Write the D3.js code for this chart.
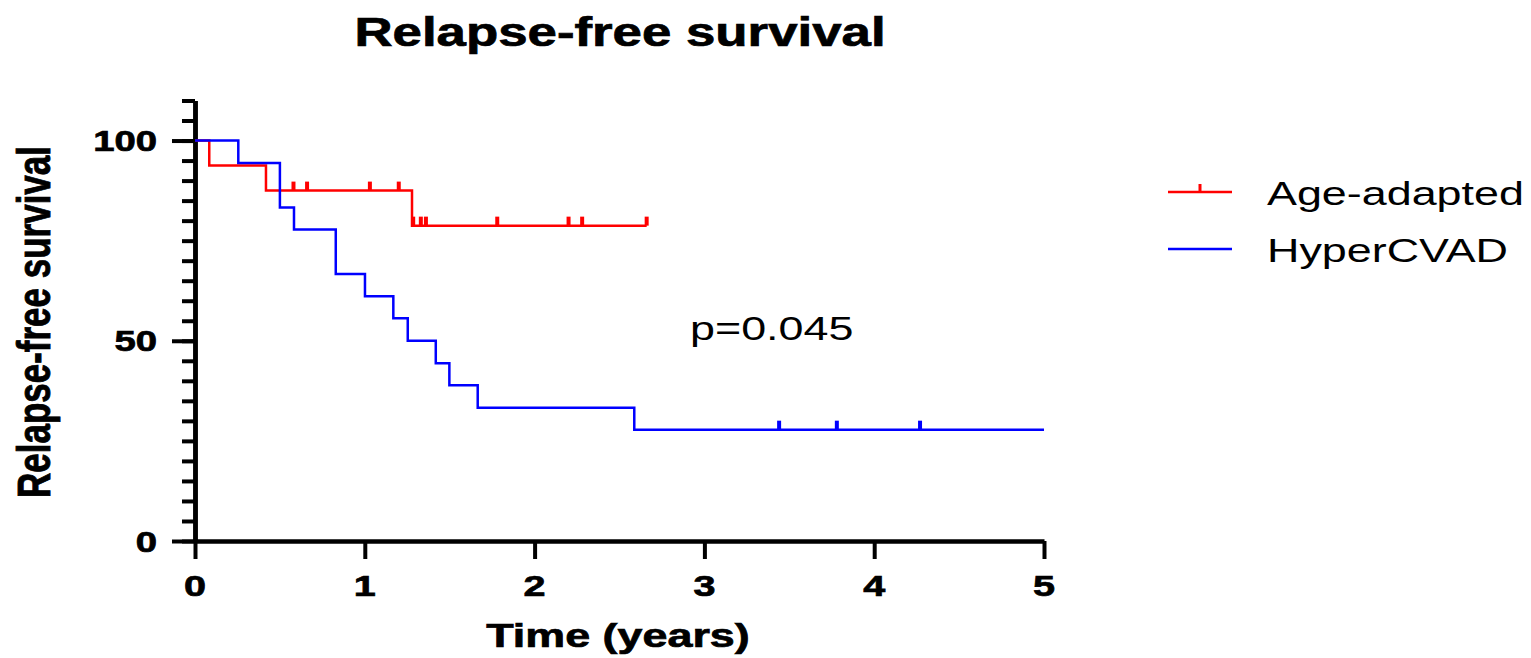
<!DOCTYPE html>
<html>
<head>
<meta charset="utf-8">
<script src="https://cdn.jsdelivr.net/npm/d3@7"></script>
<style>
  html, body { margin: 0; padding: 0; background: #ffffff; }
  svg { display: block; }
  text { font-family: "Liberation Sans", Arial, Helvetica, sans-serif; fill: #000; }
  text.heavy { stroke: #000; stroke-width: 0.7px; }
</style>
</head>
<body>
<svg id="chart" width="1531" height="658"></svg>
<script>
// ---------------- data ----------------
const title = "Relapse-free survival";
const xTitle = "Time (years)";
const yTitle = "Relapse-free survival";
const pValueText = "p=0.045";

const seriesNames = ["Age-adapted", "HyperCVAD"];
const seriesColors = ["#ff0000", "#0000ff"];

// Age-adapted: step times and survival (%)
const ageTimes = [0, 0.084, 0.418, 1.278];
const ageSurv  = [100, 93.75, 87.5, 78.75];
const ageEnd   = 2.66;
const ageCensor = [0.58, 0.66, 1.03, 1.20, 1.285, 1.33, 1.36, 1.78, 2.20, 2.28, 2.66];

// HyperCVAD: step times and survival (%)
const hyperTimes = [0, 0.255, 0.50, 0.583, 0.829, 1.001, 1.168, 1.253, 1.418, 1.498, 1.665, 2.587];
const hyperSurv  = [100, 94.4, 83.3, 77.8, 66.7, 61.1, 55.6, 50.0, 44.4, 38.9, 33.3, 27.8];
const hyperEnd   = 5;
const hyperCensor = [3.44, 3.78, 4.27];

const xTicks = [0, 1, 2, 3, 4, 5];
const yMajorTicks = [0, 50, 100];
const yMinorTicks = d3.range(0, 111, 5);

// ---------------- layout ----------------
const SX = 1.32; // horizontal stretch of the original figure's lettering
const svg = d3.select("#chart");

const x = d3.scaleLinear().domain([0, 5]).range([195, 1044]);
const y = d3.scaleLinear().domain([0, 110]).range([541, 100.5]);

function stretchedText(sel, px, py, str, size, weight, anchor, rotate) {
  const t = sel.append("text")
    .attr("transform", `translate(${px},${py}) scale(${SX},1)` + (rotate ? ` rotate(${rotate})` : ""))
    .attr("text-anchor", anchor || "start")
    .attr("font-size", size)
    .attr("font-weight", weight || "normal")
    .attr("class", weight === "bold" ? "heavy" : null)
    .text(str);
  return t;
}

// title
stretchedText(svg, 620, 46, title, 40, "bold", "middle");

// y axis: minor + major ticks
const yMinor = svg.append("g").attr("transform", `translate(${x(0)},0)`)
  .call(d3.axisLeft(y).tickValues(yMinorTicks).tickSize(13).tickSizeOuter(0).tickFormat(""));
const yMajor = svg.append("g").attr("transform", `translate(${x(0)},0)`)
  .call(d3.axisLeft(y).tickValues(yMajorTicks).tickSize(23).tickSizeOuter(0).tickFormat(""));
[yMinor, yMajor].forEach(g => {
  g.select(".domain").attr("stroke", "#000").attr("stroke-width", 4.5);
  g.selectAll(".tick line").attr("stroke", "#000").attr("stroke-width", 4);
});
yMajorTicks.forEach(v => {
  stretchedText(svg, 157, y(v) + 10.5, String(v), 29, "bold", "end");
});

// x axis
const xAxis = svg.append("g").attr("transform", `translate(0,${y(0)})`)
  .call(d3.axisBottom(x).tickValues(xTicks).tickSize(18).tickSizeOuter(0).tickFormat(""));
xAxis.select(".domain").attr("stroke", "#000").attr("stroke-width", 4.5);
xAxis.selectAll(".tick line").attr("stroke", "#000").attr("stroke-width", 4);
xTicks.forEach(v => {
  stretchedText(svg, x(v), 596, String(v), 30, "bold", "middle");
});

// axis titles
stretchedText(svg, 618, 647, xTitle, 34, "bold", "middle");
svg.append("text")
  .attr("class", "heavy")
  .attr("transform", `translate(50,322) scale(${SX},1) rotate(-90)`)
  .attr("text-anchor", "middle")
  .attr("font-size", 35)
  .attr("font-weight", "bold")
  .text(yTitle);

// survival curves
function stepValue(times, surv, t) {
  let v = surv[0];
  for (let i = 0; i < times.length; i++) if (times[i] <= t) v = surv[i];
  return v;
}
const line = d3.line().x(d => x(d[0])).y(d => y(d[1])).curve(d3.curveStepAfter);

const groups = [
  { times: ageTimes, surv: ageSurv, end: ageEnd, censor: ageCensor, color: seriesColors[0] },
  { times: hyperTimes, surv: hyperSurv, end: hyperEnd, censor: hyperCensor, color: seriesColors[1] }
];
groups.forEach(g => {
  const pts = g.times.map((t, i) => [t, g.surv[i]]);
  pts.push([g.end, g.surv[g.surv.length - 1]]);
  svg.append("path").datum(pts)
    .attr("fill", "none").attr("stroke", g.color).attr("stroke-width", 2.5)
    .attr("d", line);
  svg.append("g").selectAll("line").data(g.censor).join("line")
    .attr("x1", d => x(d)).attr("x2", d => x(d))
    .attr("y1", d => y(stepValue(g.times, g.surv, d)))
    .attr("y2", d => y(stepValue(g.times, g.surv, d)) - 9)
    .attr("stroke", g.color).attr("stroke-width", 4);
});

// p value
stretchedText(svg, 690, 340, pValueText, 34, "normal", "start");

// legend
const legendY = [192, 249];
seriesNames.forEach((name, i) => {
  const lg = svg.append("g");
  lg.append("line").attr("x1", 1168).attr("x2", 1232).attr("y1", legendY[i]).attr("y2", legendY[i])
    .attr("stroke", seriesColors[i]).attr("stroke-width", 2.4);
  if (i === 0) {
    lg.append("line").attr("x1", 1200).attr("x2", 1200).attr("y1", legendY[i]).attr("y2", legendY[i] - 8)
      .attr("stroke", seriesColors[i]).attr("stroke-width", 3);
  }
  stretchedText(lg, 1267, legendY[i] + 13, name, 34, "normal", "start");
});
</script>
</body>
</html>
